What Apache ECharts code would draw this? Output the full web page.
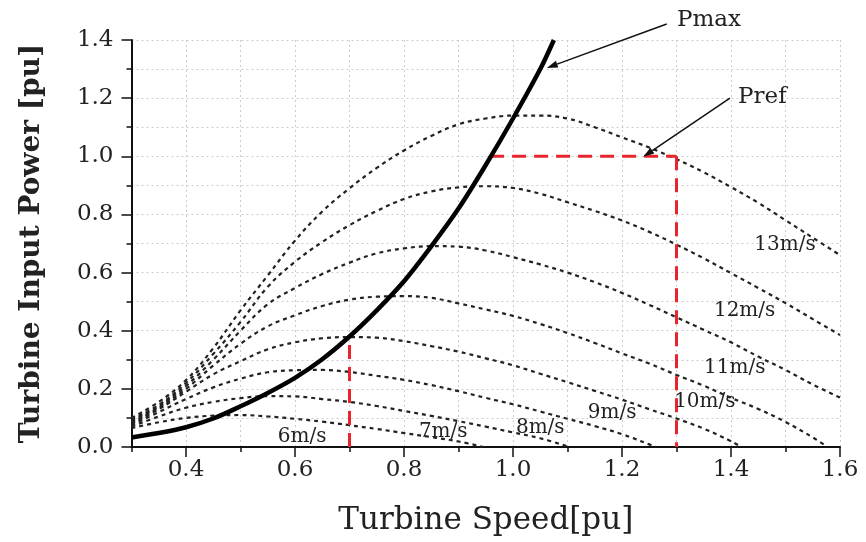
<!DOCTYPE html>
<html>
<head>
<meta charset="utf-8">
<script src="https://cdn.jsdelivr.net/npm/echarts@6/dist/echarts.min.js"></script>
<style>html,body{margin:0;padding:0;background:#fff}#c{width:866px;height:542px}</style>
</head>
<body>
<div id="c"></div>
<script>
// ---- data ----
const omega = [0.30,0.35,0.40,0.45,0.50,0.55,0.60,0.65,0.70,0.75,0.80,0.85,0.90,0.95,1.00,1.05,1.10,1.15,1.20,1.25,1.30,1.35,1.40,1.45,1.50,1.55,1.60];
const wind6  = [0.065,0.085,0.100,0.108,0.110,0.105,0.097,0.087,0.075,0.062,0.048,0.034,0.019,null,null,null,null,null,null,null,null,null,null,null,null,null,null];
const wind7  = [0.070,0.105,0.135,0.155,0.168,0.175,0.174,0.165,0.155,0.141,0.124,0.107,0.089,0.070,0.050,0.030,null,null,null,null,null,null,null,null,null,null,null];
const wind8  = [0.075,0.120,0.165,0.205,0.235,0.257,0.264,0.265,0.258,0.245,0.231,0.213,0.192,0.169,0.147,0.122,0.097,0.072,0.044,0.009,null,null,null,null,null,null,null];
const wind9  = [0.080,0.130,0.190,0.250,0.295,0.336,0.360,0.374,0.378,0.376,0.364,0.347,0.328,0.305,0.281,0.252,0.223,0.193,0.163,0.130,0.098,0.063,0.020,null,null,null,null];
const wind10 = [0.085,0.135,0.200,0.280,0.355,0.415,0.453,0.485,0.507,0.517,0.519,0.513,0.494,0.473,0.451,0.423,0.392,0.358,0.322,0.287,0.248,0.211,0.169,0.131,0.086,0.033,null];
const wind11 = [0.090,0.140,0.210,0.300,0.400,0.491,0.547,0.595,0.634,0.666,0.683,0.691,0.689,0.676,0.653,0.628,0.600,0.567,0.530,0.489,0.446,0.403,0.360,0.311,0.265,0.215,0.170];
const wind12 = [0.095,0.145,0.220,0.320,0.430,0.551,0.637,0.705,0.763,0.812,0.853,0.879,0.893,0.897,0.891,0.871,0.842,0.812,0.779,0.740,0.696,0.649,0.598,0.547,0.495,0.440,0.385];
const wind13 = [0.100,0.155,0.230,0.340,0.470,0.590,0.710,0.810,0.890,0.960,1.020,1.070,1.110,1.130,1.140,1.140,1.130,1.100,1.065,1.030,0.990,0.945,0.894,0.840,0.780,0.720,0.660];
const windSpeeds = [6,7,8,9,10,11,12,13];
const zeroCross = [0.946,1.104,1.262,1.419,1.577,null,null,null];

const pmaxSpeed = [0.30,0.35,0.40,0.45,0.50,0.55,0.60,0.65,0.70,0.75,0.80,0.85,0.90,0.95,1.00,1.05,1.075];
const pmaxPower = [0.033,0.048,0.068,0.098,0.140,0.186,0.238,0.302,0.380,0.470,0.570,0.690,0.820,0.970,1.130,1.300,1.400];

const refLowSpeed = 0.70, refLowPower = 0.38;
const refHighSpeed = 1.30, refPower = 1.00, refKnee = 0.958;

const curveLabels = ['6m/s','7m/s','8m/s','9m/s','10m/s','11m/s','12m/s','13m/s'];
const curveLabelX = [0.613,0.872,1.050,1.182,1.352,1.407,1.425,1.499];
const curveLabelY = [0.034,0.052,0.065,0.117,0.155,0.272,0.468,0.695];

const xTickLabels = [0.4,0.6,0.8,1.0,1.2,1.4,1.6];

const pmaxNote = {text:'Pmax', at:[1.301,1.469], from:[1.282,1.455], to:[1.062,1.304]};
const prefNote = {text:'Pref', at:[1.413,1.204], from:[1.398,1.200], to:[1.239,0.998]};

// ---- chart ----
const FONT = '"DejaVu Serif", "Liberation Serif", serif';
const windPower = [wind6,wind7,wind8,wind9,wind10,wind11,wind12,wind13];
const chart = echarts.init(document.getElementById('c'));

const gridLine = {show:true, lineStyle:{color:'#cccccc', width:1, type:[2,3]}};

const windSeries = windSpeeds.map((v,i)=>{
  const pts = [];
  omega.forEach((w,j)=>{ if (windPower[i][j] != null) pts.push([w, windPower[i][j]]); });
  if (zeroCross[i] != null) pts.push([zeroCross[i], 0]);
  return {type:'line', name:v+'m/s', data:pts, smooth:0.4, showSymbol:false, symbol:'none',
          lineStyle:{color:'#222', width:2.2, type:[4,4]}, z:3, silent:true};
});

const redStyle = {color:'#e8242c', width:3, type:[14,8]};
const redSeries = [
  [[refLowSpeed,0],[refLowSpeed,refLowPower]],
  [[refKnee,refPower],[refHighSpeed,refPower]],
  [[refHighSpeed,refPower],[refHighSpeed,0]]
].map(d=>({type:'line', data:d, showSymbol:false, symbol:'none', lineStyle:redStyle, z:4, silent:true}));

const option = {
  animation:false,
  backgroundColor:'#fff',
  grid:{left:131.5, right:26, top:40, bottom:95},
  xAxis:[{
    type:'value', min:0.3, max:1.6, interval:0.1,
    axisLine:{show:true, onZero:false, lineStyle:{color:'#111', width:2}},
    axisTick:{show:true, length:5, lineStyle:{color:'#111', width:1.5}},
    axisLabel:{fontFamily:FONT, fontSize:23, color:'#222', margin:12,
      formatter:(v)=>{ const k=Math.round(v*10); return (k%2===0) ? (k/10).toFixed(1) : ''; }},
    splitLine:gridLine,
    name:'Turbine Speed[pu]', nameLocation:'middle', nameGap:58,
    nameTextStyle:{fontFamily:FONT, fontSize:31, color:'#222'}
  },{
    type:'value', min:0.3, max:1.6, interval:0.1, position:'bottom',
    axisLine:{show:false}, axisLabel:{show:false}, splitLine:{show:false},
    axisTick:{show:true, length:10, customValues:xTickLabels, lineStyle:{color:'#111', width:1.5}}
  }],
  yAxis:{
    type:'value', min:0, max:1.4, interval:0.2,
    axisLine:{show:true, lineStyle:{color:'#111', width:2}},
    axisTick:{show:true, length:10, lineStyle:{color:'#111', width:1.5}},
    minorTick:{show:true, splitNumber:2, length:5, lineStyle:{color:'#111', width:1.5}},
    axisLabel:{fontFamily:FONT, fontSize:23, color:'#222', margin:18, formatter:(v)=>v.toFixed(1)},
    splitLine:gridLine,
    minorSplitLine:gridLine,
    name:'Turbine Input Power [pu]', nameLocation:'middle', nameGap:86,
    nameTextStyle:{fontFamily:FONT, fontSize:28, fontWeight:'bold', color:'#222'}
  },
  series:[
    ...windSeries,
    ...redSeries,
    {type:'line', name:'Pmax', data:pmaxSpeed.map((w,i)=>[w,pmaxPower[i]]), smooth:0.3,
     showSymbol:false, symbol:'none', lineStyle:{color:'#000', width:4.5}, z:6, silent:true},
    {type:'scatter', data:curveLabelX.map((x,i)=>[x,curveLabelY[i],curveLabels[i]]),
     symbol:'circle', symbolSize:2, itemStyle:{color:'rgba(0,0,0,0)'}, z:7, silent:true,
     labelLayout:{hideOverlap:false},
     label:{show:true, position:'inside', formatter:(p)=>p.data[2],
            fontFamily:FONT, fontSize:20, color:'#222', opacity:1}}
  ]
};
chart.setOption(option);

function px(p){ return chart.convertToPixel({gridIndex:0}, p); }
function arrow(note){
  const a = px(note.from), b = px(note.to), t = px(note.at);
  const dx = b[0]-a[0], dy = b[1]-a[1], L = Math.hypot(dx,dy), ux = dx/L, uy = dy/L;
  const hl = 11, hw = 3.5;
  const bx = b[0]-ux*hl, by = b[1]-uy*hl;
  return [
    {type:'line', shape:{x1:a[0], y1:a[1], x2:bx, y2:by}, style:{stroke:'#111', lineWidth:1.5}, z:100},
    {type:'polygon', shape:{points:[[b[0],b[1]],[bx-uy*hw,by+ux*hw],[bx+uy*hw,by-ux*hw]]}, style:{fill:'#111'}, z:100},
    {type:'text', x:t[0], y:t[1], style:{text:note.text, font:'23px "DejaVu Serif"', fill:'#222', align:'left', verticalAlign:'middle'}, z:100}
  ];
}
chart.setOption({graphic:[...arrow(pmaxNote), ...arrow(prefNote)]});
</script>
</body>
</html>
